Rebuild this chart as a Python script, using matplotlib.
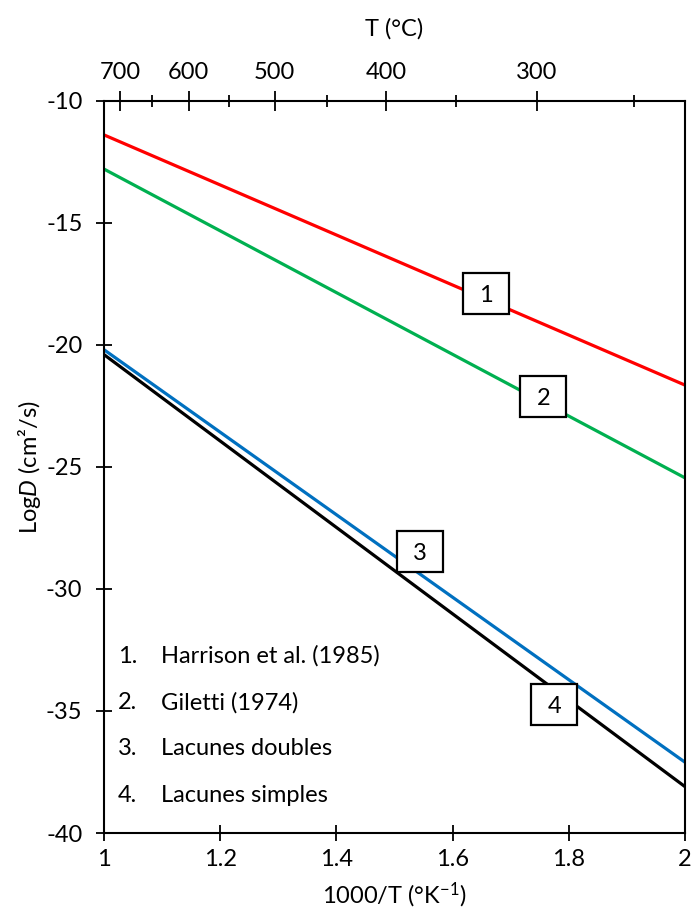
import numpy as np
import matplotlib
matplotlib.use("Agg")
import matplotlib.pyplot as plt
from matplotlib.patches import Rectangle

# ------------------------------------------------------------
# Arrhenius diagram: log D vs 1000/T
# ------------------------------------------------------------

plt.rcParams["font.family"] = ["Lato", "DejaVu Sans"]
plt.rcParams["mathtext.fontset"] = "custom"
plt.rcParams["mathtext.rm"] = "Lato"
plt.rcParams["mathtext.it"] = "Lato:italic"
plt.rcParams["axes.unicode_minus"] = False

inv_t = [1.0, 2.0]

harrison = [-11.4, -21.65]
giletti = [-12.8, -25.45]
lac_doubles = [-20.2, -37.1]
lac_simples = [-20.4, -38.1]

series_colors = ["#ff0000", "#00b050", "#0070c0", "#000000"]

legend_nums = ["1.", "2.", "3.", "4."]
legend_names = ["Harrison et al. (1985)", "Giletti (1974)",
                "Lacunes doubles", "Lacunes simples"]
legend_y = [-32.75, -34.65, -36.55, -38.45]

box_labels = ["1", "2", "3", "4"]
box_x = [1.657, 1.756, 1.544, 1.775]
box_y = [-17.9, -22.1, -28.45, -34.75]

top_major = [700, 600, 500, 400, 300]
top_minor = [650, 550, 450, 350, 250]

fs = 17

fig = plt.figure(figsize=(6.91, 9.14), dpi=100)
ax = fig.add_axes([0.1505, 0.0886, 0.8408, 0.8012])

# draw black first so blue sits on top
ax.plot(inv_t, lac_simples, color=series_colors[3], lw=2.3)
ax.plot(inv_t, lac_doubles, color=series_colors[2], lw=2.3)
ax.plot(inv_t, giletti, color=series_colors[1], lw=2.3)
ax.plot(inv_t, harrison, color=series_colors[0], lw=2.3)

ax.set_xlim(1, 2)
ax.set_ylim(-40, -10)
ax.set_xticks([1, 1.2, 1.4, 1.6, 1.8, 2])
ax.set_xticklabels(["1", "1.2", "1.4", "1.6", "1.8", "2"])
ax.set_yticks([-40, -35, -30, -25, -20, -15, -10])

for s in ax.spines.values():
    s.set_linewidth(1.5)
ax.spines["top"].set_visible(False)

ax.tick_params(axis="both", direction="inout", length=11, width=1.3,
               labelsize=fs)
ax.tick_params(axis="x", pad=6)
ax.tick_params(axis="y", pad=10)

ax.set_xlabel("1000/T (°K$^{\\mathregular{-1}}$)", fontsize=fs, labelpad=8)
ax.set_ylabel("Log$\\mathit{D}$ (cm²/s)", fontsize=fs, labelpad=2)

# top axis in degrees Celsius
top = ax.secondary_xaxis("top", functions=(lambda x: 1000 / x - 273,
                                            lambda t: 1000 / (t + 273)))
top.set_xticks(top_major)
top.set_xticks(top_minor, minor=True)
top.spines["top"].set_linewidth(1.5)
top.tick_params(which="major", direction="inout", length=14, width=1.3,
                labelsize=fs, pad=6)
top.tick_params(which="minor", direction="inout", length=8, width=1.3)
top.set_xlabel("T (°C)", fontsize=fs, labelpad=19)

# legend written as text
for num, name, y in zip(legend_nums, legend_names, legend_y):
    ax.text(1.024, y, num, fontsize=fs, va="center", ha="left")
    ax.text(1.098, y, name, fontsize=fs, va="center", ha="left")

# numbered boxes on the lines (46 x 41 px)
bw = 46 / 581
bh = 41 / 24.45
for lab, x, y in zip(box_labels, box_x, box_y):
    ax.add_patch(Rectangle((x - bw / 2, y - bh / 2), bw, bh, fc="white",
                           ec="black", lw=1.6, zorder=5))
    ax.text(x, y, lab, fontsize=fs, ha="center", va="center_baseline", zorder=6)

fig.savefig("out.png", dpi=100)
